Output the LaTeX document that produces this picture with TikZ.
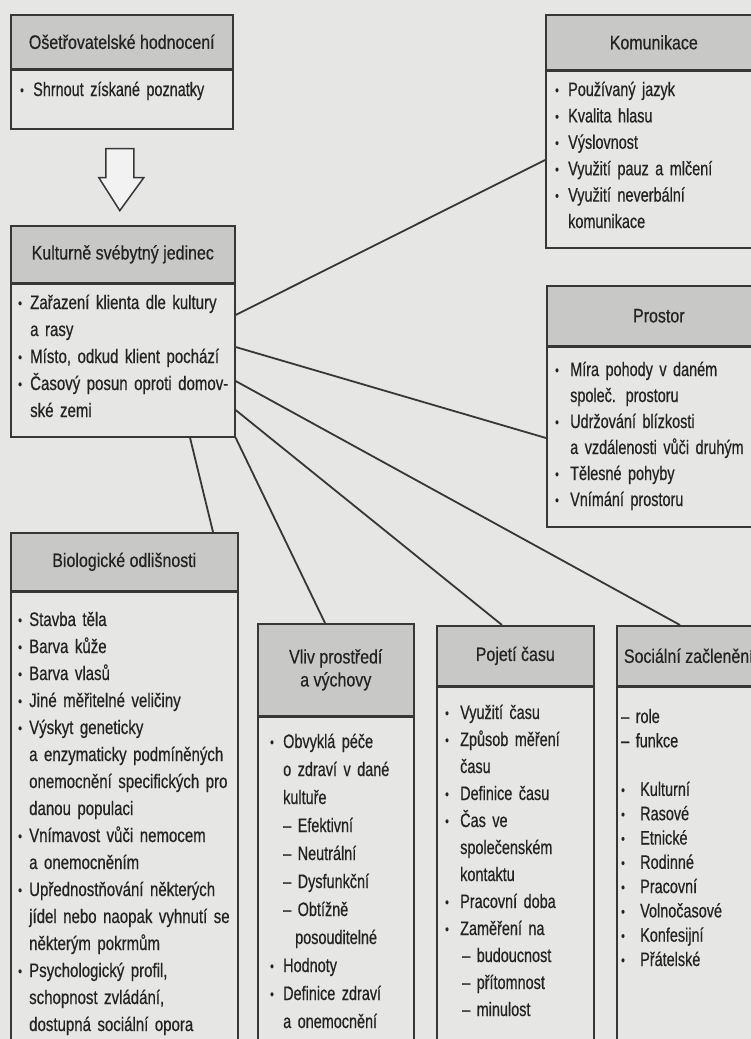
\documentclass[tikz,border=0pt]{standalone}
\usepackage{fontspec}
\setmainfont{Liberation Sans}[FakeStretch=0.82,FakeBold=0.5]
\newfontfamily\condF{Liberation Sans}[FakeStretch=0.74,FakeBold=0.5]
\newfontfamily\kulF{Liberation Sans}[FakeStretch=0.77,FakeBold=0.5]
\usetikzlibrary{calc}
\definecolor{paper}{RGB}{230,230,228}
\definecolor{hdrgray}{RGB}{200,200,198}
\definecolor{ink}{RGB}{35,35,35}
\definecolor{edge}{RGB}{55,55,55}
\newcommand\bulx[1][13pt]{\makebox[#1][l]{\raisebox{1pt}{\fontsize{14pt}{14pt}\selectfont\textbullet}}}
\newcommand\contl[1][13pt]{\hspace*{#1}}
\begin{document}
\begin{tikzpicture}[x=1pt,y=-1pt,
  boxn/.style={draw=edge, line width=1.6pt, fill=paper, anchor=north west, inner sep=0pt},
  hdrn/.style={draw=edge, line width=1.6pt, fill=hdrgray, anchor=north west, inner sep=0pt, align=center, text=ink, font=\fontsize{19.5pt}{23pt}\selectfont},
  sepl/.style={draw=edge, line width=2.6pt},
  txt/.style={anchor=base west, inner sep=0pt, align=left, text=ink, text width=240pt},
  conn/.style={draw=edge, line width=1.8pt},
  harrow/.style={draw=edge, line width=1.5pt, fill=paper!50!white}
]
\useasboundingbox (0,0) rectangle (751,1039);
\clip (0,0) rectangle (751,1039);
\fill[paper] (0,0) rectangle (751,1039);

% boxes
\node[boxn, minimum width=222pt, minimum height=114pt] (osb) at (10,14) {};
\node[hdrn, minimum width=222pt, minimum height=54pt] (osh) at (10,14) {Ošetřovatelské hodnocení};
\draw[sepl] (osh.south west) -- (osh.south east);

\node[boxn, minimum width=216pt, minimum height=233pt] (kom) at (545,14) {};
\node[hdrn, minimum width=216pt, minimum height=55pt] (komh) at (545,14) {Komunikace};
\draw[sepl] (komh.south west) -- (komh.south east);

\node[boxn, minimum width=224pt, minimum height=211pt] (kul) at (10,225) {};
\node[hdrn, minimum width=224pt, minimum height=57pt] (kulh) at (10,225) {Kulturně svébytný jedinec};
\draw[sepl] (kulh.south west) -- (kulh.south east);

\node[boxn, minimum width=224pt, minimum height=241pt] (pro) at (546,285) {};
\node[hdrn, minimum width=224pt, minimum height=60pt] (proh) at (546,285) {Prostor};
\draw[sepl] (proh.south west) -- (proh.south east);

\node[boxn, minimum width=227pt, minimum height=530pt] (bio) at (10,532) {};
\node[hdrn, minimum width=227pt, minimum height=58pt] (bioh) at (10,532) {Biologické odlišnosti};
\draw[sepl] (bioh.south west) -- (bioh.south east);

\node[boxn, minimum width=156pt, minimum height=440pt] (vli) at (257,623) {};
\node[hdrn, minimum width=156pt, minimum height=92pt] (vlih) at (257,623) {Vliv prostředí\\a výchovy};
\draw[sepl] (vlih.south west) -- (vlih.south east);

\node[boxn, minimum width=157pt, minimum height=440pt] (poj) at (436,625) {};
\node[hdrn, minimum width=157pt, minimum height=60pt] (pojh) at (436,625) {Pojetí času};
\draw[sepl] (pojh.south west) -- (pojh.south east);

\node[boxn, minimum width=144pt, minimum height=440pt] (soc) at (616,625) {};
\node[hdrn, minimum width=144pt, minimum height=60pt] (soch) at (616,625) {Sociální začlenění};
\draw[sepl] (soch.south west) -- (soch.south east);

% hollow arrow
\draw[harrow] ($(osb.south)+(-16,19)$) -- ++(28,0) -- ++(0,29) -- ++(10,0) -- ++(-24,33) -- ++(-21,-33) -- ++(7,0) -- cycle;

% connectors
\draw[conn] ($(kul.north east)+(0,90)$) -- ($(kom.north west)+(0,146)$);
\draw[conn] ($(kul.north east)+(0,122)$) -- ($(pro.north west)+(0,153)$);
\draw[conn] ($(kul.north east)+(0,156)$) -- ($(soc.north west)+(64,0)$);
\draw[conn] ($(kul.north east)+(0,185)$) -- ($(poj.north west)+(66,0)$);
\draw[conn] (kul.south east) -- ($(vli.north west)+(68,0)$);
\draw[conn] ($(kul.south west)+(180,0)$) -- ($(bio.north west)+(203,0)$);

% texts
\node[txt, font=\condF\fontsize{19.5pt}{26pt}\selectfont] (ost) at (20,96) {\bulx[13pt]Shrnout získané poznatky};

\node[txt, font=\condF\fontsize{19.5pt}{26.4pt}\selectfont] (komt) at (555,96) {\bulx Používaný jazyk\\
\bulx Kvalita hlasu\\
\bulx Výslovnost\\
\bulx Využití pauz a mlčení\\
\bulx Využití neverbální\\
\contl komunikace};

\node[txt, font=\kulF\fontsize{19.5pt}{27pt}\selectfont] (kult) at (18,309) {\bulx[12pt]Zařazení klienta dle kultury\\
\contl[12pt]a rasy\\
\bulx[12pt]Místo, odkud klient pochází\\
\bulx[12pt]Časový posun oproti domov-\\
\contl[12pt]ské zemi};

\node[txt, font=\condF\fontsize{19.5pt}{26pt}\selectfont] (prot) at (555,376) {\bulx[15pt]Míra pohody v daném\\
\contl[15pt]společ. prostoru\\
\bulx[15pt]Udržování blízkosti\\
\contl[15pt]a vzdálenosti vůči druhým\\
\bulx[15pt]Tělesné pohyby\\
\bulx[15pt]Vnímání prostoru};

\node[txt, font=\kulF\fontsize{19.5pt}{27pt}\selectfont] (biot) at (18,626) {\bulx[11pt]Stavba těla\\
\bulx[11pt]Barva kůže\\
\bulx[11pt]Barva vlasů\\
\bulx[11pt]Jiné měřitelné veličiny\\
\bulx[11pt]Výskyt geneticky\\
\contl[11pt]a enzymaticky podmíněných\\
\contl[11pt]onemocnění specifických pro\\
\contl[11pt]danou populaci\\
\bulx[11pt]Vnímavost vůči nemocem\\
\contl[11pt]a onemocněním\\
\bulx[11pt]Upřednostňování některých\\
\contl[11pt]jídel nebo naopak vyhnutí se\\
\contl[11pt]některým pokrmům\\
\bulx[11pt]Psychologický profil,\\
\contl[11pt]schopnost zvládání,\\
\contl[11pt]dostupná sociální opora};

\node[txt, font=\condF\fontsize{19.5pt}{28pt}\selectfont] (vlit) at (270,748) {\bulx[13pt]Obvyklá péče\\
\contl[13pt]o zdraví v dané\\
\contl[13pt]kultuře\\
\contl[13pt]– Efektivní\\
\contl[13pt]– Neutrální\\
\contl[13pt]– Dysfunkční\\
\contl[13pt]– Obtížně\\
\contl[25pt]posouditelné\\
\bulx[13pt]Hodnoty\\
\bulx[13pt]Definice zdraví\\
\contl[13pt]a onemocnění};

\node[txt, font=\condF\fontsize{19.5pt}{27pt}\selectfont] (pojt) at (445,719) {\bulx[15pt]Využití času\\
\bulx[15pt]Způsob měření\\
\contl[15pt]času\\
\bulx[15pt]Definice času\\
\bulx[15pt]Čas ve\\
\contl[15pt]společenském\\
\contl[15pt]kontaktu\\
\bulx[15pt]Pracovní doba\\
\bulx[15pt]Zaměření na\\
\contl[17pt]– budoucnost\\
\contl[17pt]– přítomnost\\
\contl[17pt]– minulost};

\node[txt, font=\condF\fontsize{19.5pt}{24.3pt}\selectfont] (soct) at (621,723) {– role\\
– funkce\\[24.3pt]
\bulx[19pt]Kulturní\\
\bulx[19pt]Rasové\\
\bulx[19pt]Etnické\\
\bulx[19pt]Rodinné\\
\bulx[19pt]Pracovní\\
\bulx[19pt]Volnočasové\\
\bulx[19pt]Konfesijní\\
\bulx[19pt]Přátelské};
\end{tikzpicture}
\end{document}
